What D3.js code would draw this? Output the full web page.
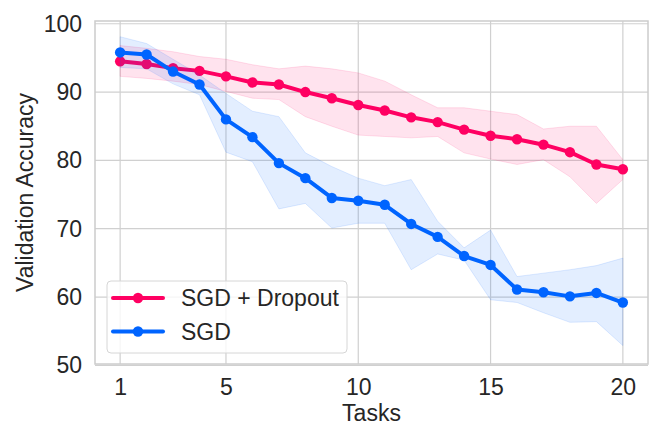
<!DOCTYPE html>
<html>
<head>
<meta charset="utf-8">
<script src="https://cdn.jsdelivr.net/npm/d3@7"></script>
<style>
  body { margin: 0; background: #fff; }
  text { font-family: "Liberation Sans", Arial, sans-serif; fill: #262626; }
</style>
</head>
<body>
<svg id="chart"></svg>
<script>
// Chart size
const width = 664;
const height = 443;
const margin = { top: 21, right: 16, bottom: 79, left: 95 };

// Data
const tasks = [1, 2, 3, 4, 5, 6, 7, 8, 9, 10, 11, 12, 13, 14, 15, 16, 17, 18, 19, 20];
const dropoutMean  = [94.5, 94.1, 93.5, 93.1, 92.3, 91.4, 91.1, 90.0, 89.1, 88.1, 87.3, 86.3, 85.6, 84.5, 83.6, 83.1, 82.3, 81.2, 79.4, 78.7];
const dropoutUpper = [96.8, 96.4, 95.9, 95.2, 94.8, 94.0, 93.4, 93.8, 93.4, 92.8, 91.6, 89.6, 87.7, 87.7, 87.2, 86.7, 84.6, 85.0, 85.0, 80.1];
const dropoutLower = [92.3, 92.0, 91.6, 91.1, 90.1, 89.1, 88.9, 86.4, 85.0, 83.7, 83.5, 83.3, 83.5, 81.1, 80.2, 79.4, 80.1, 77.6, 73.7, 77.2];
const sgdMean  = [95.8, 95.5, 93.0, 91.1, 86.0, 83.4, 79.6, 77.4, 74.5, 74.1, 73.5, 70.7, 68.8, 66.0, 64.7, 61.1, 60.7, 60.1, 60.6, 59.2];
const sgdUpper = [98.1, 97.1, 94.8, 92.5, 89.8, 87.2, 86.4, 81.1, 79.1, 77.4, 76.3, 77.2, 71.1, 67.2, 69.8, 63.0, 63.5, 64.0, 64.6, 65.7];
const sgdLower = [93.6, 93.4, 91.2, 89.6, 81.2, 79.8, 72.9, 73.7, 70.1, 70.8, 70.8, 64.0, 66.3, 65.4, 59.6, 59.2, 57.7, 56.3, 56.4, 52.9];
const xTicks = [1, 5, 10, 15, 20];
const yTicks = [50, 60, 70, 80, 90, 100];

const series = [
    { name: "SGD + Dropout", color: "#ff0062", mean: dropoutMean, upper: dropoutUpper, lower: dropoutLower },
    { name: "SGD", color: "#0064ff", mean: sgdMean, upper: sgdUpper, lower: sgdLower }
];

const svg = d3.select("#chart")
    .attr("width", width)
    .attr("height", height);

const x = d3.scaleLinear()
    .domain([0.05, 20.95])
    .range([margin.left, width - margin.right]);

const y = d3.scaleLinear()
    .domain([50.2, 100.4])
    .range([height - margin.bottom, margin.top]);

// Grid lines
svg.append("g")
    .selectAll("line")
    .data(xTicks)
    .enter().append("line")
    .attr("x1", d => x(d)).attr("x2", d => x(d))
    .attr("y1", margin.top).attr("y2", height - margin.bottom)
    .attr("stroke", "#d0d0d0").attr("stroke-width", 1.2);

svg.append("g")
    .selectAll("line")
    .data(yTicks)
    .enter().append("line")
    .attr("x1", margin.left).attr("x2", width - margin.right)
    .attr("y1", d => y(d)).attr("y2", d => y(d))
    .attr("stroke", "#d0d0d0").attr("stroke-width", 1.2);

// Axes (labels only, no tick marks)
const xAxis = svg.append("g")
    .attr("transform", `translate(0,${height - margin.bottom})`)
    .call(d3.axisBottom(x).tickValues(xTicks).tickSize(0).tickPadding(15));
const yAxis = svg.append("g")
    .attr("transform", `translate(${margin.left},0)`)
    .call(d3.axisLeft(y).tickValues(yTicks).tickSize(0).tickPadding(13));
[xAxis, yAxis].forEach(a => {
    a.select(".domain").remove();
    a.selectAll("text").attr("font-size", 23).attr("fill", "#262626");
});

// Frame
svg.append("rect")
    .attr("x", margin.left).attr("y", margin.top)
    .attr("width", width - margin.left - margin.right)
    .attr("height", height - margin.top - margin.bottom)
    .attr("fill", "none")
    .attr("stroke", "#cccccc")
    .attr("stroke-width", 1.5);

// Bands and lines
const area = d3.area()
    .x((d, i) => x(tasks[i]))
    .y0(d => y(d[0]))
    .y1(d => y(d[1]));

const line = d3.line()
    .x((d, i) => x(tasks[i]))
    .y(d => y(d));

series.forEach(s => {
    const band = s.lower.map((v, i) => [v, s.upper[i]]);
    svg.append("path")
        .datum(band)
        .attr("d", area)
        .attr("fill", s.color)
        .attr("fill-opacity", 0.11)
        .attr("stroke", s.color)
        .attr("stroke-opacity", 0.12)
        .attr("stroke-width", 1);

    svg.append("path")
        .datum(s.mean)
        .attr("d", line)
        .attr("fill", "none")
        .attr("stroke", s.color)
        .attr("stroke-width", 4)
        .attr("stroke-linejoin", "round");

    svg.append("g")
        .selectAll("circle")
        .data(s.mean)
        .enter().append("circle")
        .attr("cx", (d, i) => x(tasks[i]))
        .attr("cy", d => y(d))
        .attr("r", 5.2)
        .attr("fill", s.color);
});

// Axis labels
svg.append("text")
    .attr("x", (margin.left + width - margin.right) / 2)
    .attr("y", 421)
    .attr("text-anchor", "middle")
    .attr("font-size", 23)
    .text("Tasks");

svg.append("text")
    .attr("transform", `translate(33,${(margin.top + height - margin.bottom) / 2}) rotate(-90)`)
    .attr("text-anchor", "middle")
    .attr("font-size", 23)
    .text("Validation Accuracy");

// Legend
const legend = svg.append("g").attr("transform", "translate(107,281)");
legend.append("rect")
    .attr("width", 240).attr("height", 72)
    .attr("rx", 4)
    .attr("fill", "#ffffff").attr("fill-opacity", 0.8)
    .attr("stroke", "#d6d6d6").attr("stroke-width", 1);

const items = legend.selectAll(".item")
    .data(series)
    .enter().append("g")
    .attr("transform", (d, i) => `translate(0,${17 + i * 33.5})`);
items.append("line")
    .attr("x1", 6).attr("x2", 56)
    .attr("stroke", d => d.color).attr("stroke-width", 4)
    .attr("stroke-linecap", "round");
items.append("circle")
    .attr("cx", 31).attr("r", 5.2)
    .attr("fill", d => d.color);
items.append("text")
    .attr("x", 74).attr("dy", "0.36em")
    .attr("font-size", 23)
    .text(d => d.name);
</script>
</body>
</html>
